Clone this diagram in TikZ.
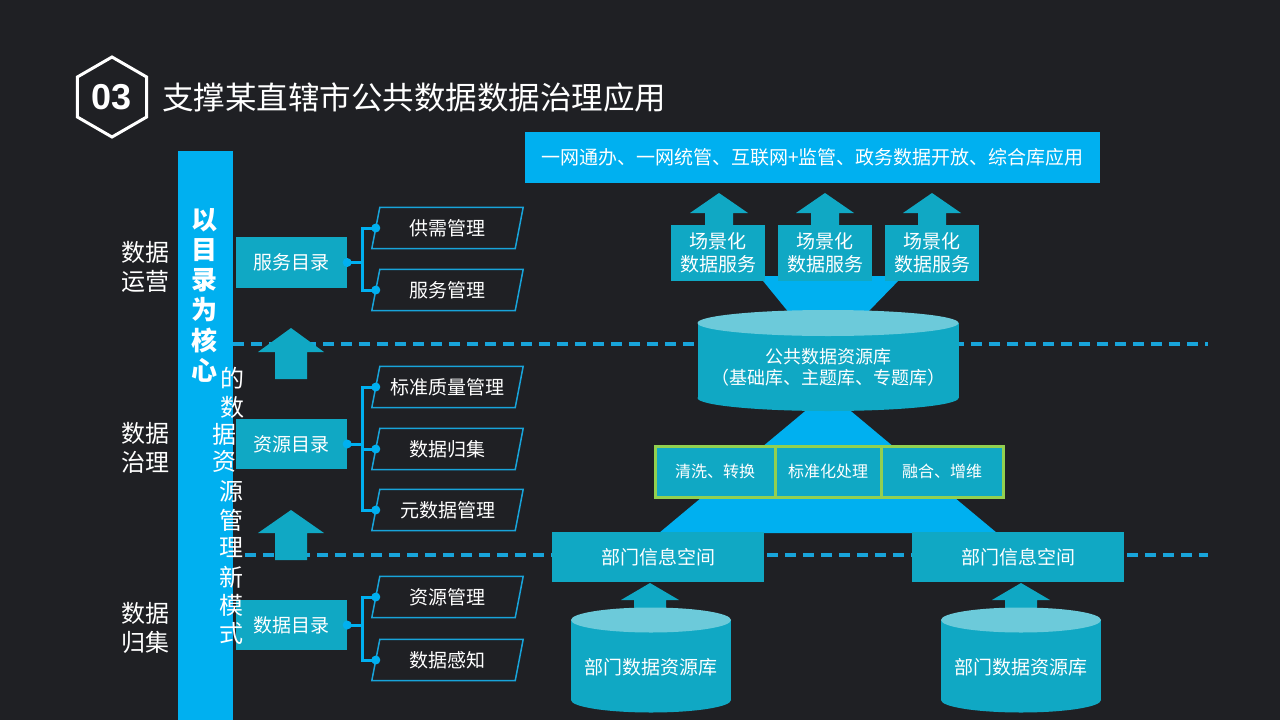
\documentclass[tikz,border=0pt]{standalone}
\usepackage{fontspec}
\setmainfont{Liberation Sans}
\newfontfamily\cjk{Noto Sans CJK SC}
\usetikzlibrary{calc}

\definecolor{bg}{RGB}{31,32,36}
\definecolor{sky}{RGB}{0,176,240}
\definecolor{boxteal}{RGB}{16,168,196}
\definecolor{captop}{RGB}{108,202,218}
\definecolor{dashc}{RGB}{24,164,218}
\definecolor{lime}{RGB}{146,208,80}

\newcommand\cjksize[2]{\cjk\fontsize{#1}{#2}\selectfont}
% block arrow pointing up: centre x, tip y, head base y, bottom y, head half width, shaft half width
\newcommand\blockup[6]{\fill[boxteal] (#1,#2) -- (#1+#5,#3) -- (#1+#6,#3) -- (#1+#6,#4) -- (#1-#6,#4) -- (#1-#6,#3) -- (#1-#5,#3) -- cycle;}
% database drum: centre x, top y, bottom y, x radius, y radius
\newcommand\dbdrum[5]{%
  \fill[boxteal] (#1-#4,#2) rectangle (#1+#4,#3);
  \fill[boxteal] (#1,#3) ellipse [x radius=#4pt, y radius=#5pt];
  \fill[captop] (#1,#2) ellipse [x radius=#4pt, y radius=#5pt];}

\tikzset{
  tealbox/.style={fill=boxteal, text=white, inner sep=0pt, align=center, font=\cjksize{19}{23}},
  skybox/.style={fill=sky, text=white, inner sep=0pt, align=center, font=\cjksize{19}{23}},
  stepcell/.style={fill=boxteal, draw=lime, line width=3pt, text=white, inner sep=0pt, minimum height=51, font=\cjksize{16}{19}},
  item/.style={inner sep=0pt, minimum width=151, minimum height=41, text=white, font=\cjksize{19}{23}},
  frame/.style={draw=dashc, line width=1.5pt},
  link/.style={draw=sky, line width=3pt},
  dot/.style={circle, fill=sky, inner sep=0pt, minimum size=9pt},
  dashline/.style={draw=dashc, line width=3.5pt, dash pattern=on 11pt off 7pt},
  sidelabel/.style={text=white, align=center, font=\cjksize{24}{29}},
}

\begin{document}
\begin{tikzpicture}[x=1pt,y=-1pt]
\fill[bg] (0,0) rectangle (1280,720);
\useasboundingbox (0,0) rectangle (1280,720);

% heading
\coordinate (hexc) at (112,97);
\draw[white, line width=3pt, line join=miter] (hexc) +(30:40pt) -- +(90:40pt) -- +(150:40pt) -- +(210:40pt) -- +(270:40pt) -- +(330:40pt) -- cycle;
\node[text=white, font=\bfseries\fontsize{36}{36}\selectfont] (num) at (hexc) {03};
\node[anchor=west, text=white, inner sep=0pt, font=\cjksize{31.5}{32}] (title) at (162,98) {支撑某直辖市公共数据数据治理应用};

% layer separators
\draw[dashline] (233,344) -- (1208,344);
\draw[dashline] (245,555) -- (1208,555);

% left column
\fill[sky] (178,151) rectangle (233,720);
\foreach \ch [count=\i] in {以,目,录,为,核,心}
  \node[text=white, font=\cjksize{26}{26}\bfseries] (core\i) at (204,190+30*\i) {\ch};

\node[sidelabel] (lay1) at (145,266.5) {数据\\运营};
\node[sidelabel] (lay2) at (145,447.5) {数据\\治理};
\node[sidelabel] (lay3) at (145,627.5) {数据\\归集};

\blockup{291}{328}{352}{379}{33}{16}
\blockup{291}{510}{533}{560}{33}{16}

% catalogues
\node[tealbox, minimum width=111, minimum height=51] (c1) at (291.5,262.5) {服务目录};
\node[tealbox, minimum width=111, minimum height=50] (c2) at (291.5,444) {资源目录};
\node[tealbox, minimum width=111, minimum height=50] (c3) at (291.5,625) {数据目录};

\foreach \ch/\x/\y [count=\i] in {的/232/378,数/232/407,据/224/434,资/224/461,源/231/492,管/231/520,理/231/548,新/231/577,模/231/605,式/231/633}
  \node[text=white, font=\cjksize{24}{24}] (mode\i) at (\x,\y) {\ch};

\foreach \n/\t/\y in {p1/供需管理/228, p2/服务管理/290, p3/标准质量管理/387, p4/数据归集/449, p5/元数据管理/510, p6/资源管理/597, p7/数据感知/660} {
  \node[item] (\n) at (447.5,\y) {\t};
  \draw[frame] ([xshift=8pt]\n.north west) -- (\n.north east) -- ([xshift=-8pt]\n.south east) -- (\n.south west) -- cycle;
}

\foreach \c/\p in {c1/p1, c1/p2, c2/p3, c2/p4, c2/p5, c3/p6, c3/p7} {
  \draw[link] (\c.east) -- ++(15,0) |- ([xshift=4pt]\p.west);
  \node[dot] at ([xshift=4pt]\p.west) {};
}
\foreach \c in {c1,c2,c3} \node[dot] at (\c.east) {};

% application layer
\node[skybox, minimum width=575, minimum height=51] (apps) at (812.5,157.5) {一网通办、一网统管、互联网+监管、政务数据开放、综合库应用};

\fill[sky] (759,276) -- (903,276) -- (866,314) -- (790,314) -- cycle;
\foreach \x in {719,825,932} \blockup{\x}{193}{213}{226}{29}{14}
\foreach \x [count=\i] in {718,825,932}
  \node[tealbox, minimum width=94, minimum height=56] (s\i) at (\x,253) {场景化\\数据服务};

% public resource pool and processing
\fill[sky] (828,392) -- (997,533) -- (659,533) -- cycle;
\dbdrum{828}{323}{398}{130.5}{13}
\node[text=white, align=center, font=\cjksize{18}{21}] (pool) at (828,367) {公共数据资源库\\（基础库、主题库、专题库）};

\node[stepcell, minimum width=120] (k1) at (715,471.5) {清洗、转换};
\node[stepcell, minimum width=106] (k2) at (828,471.5) {标准化处理};
\node[stepcell, minimum width=122] (k3) at (942,471.5) {融合、增维};

% departments
\node[tealbox, minimum width=212, minimum height=50] (d1) at (658,557) {部门信息空间};
\node[tealbox, minimum width=212, minimum height=50] (d2) at (1018,557) {部门信息空间};

\blockup{650}{583}{600}{614}{29}{16}
\blockup{1021}{583}{600}{614}{29}{16}
\dbdrum{651}{620}{700}{80}{12.5}
\dbdrum{1021}{620}{700}{80}{12.5}
\node[text=white, font=\cjksize{19}{23}] (r1) at (651,667) {部门数据资源库};
\node[text=white, font=\cjksize{19}{23}] (r2) at (1021,667) {部门数据资源库};
\end{tikzpicture}
\end{document}
